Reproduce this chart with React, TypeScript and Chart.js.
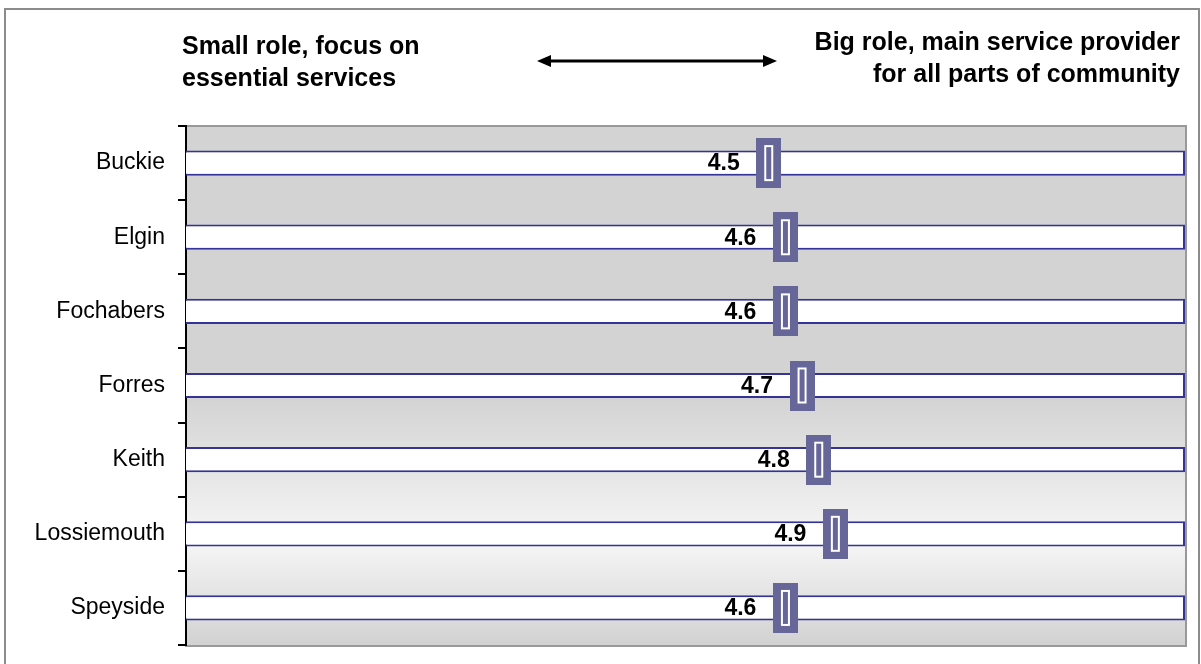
import React, { useEffect, useRef } from 'react';
import { Chart, registerables } from 'chart.js';

Chart.register(...registerables);

const categories = ['Buckie', 'Elgin', 'Fochabers', 'Forres', 'Keith', 'Lossiemouth', 'Speyside'];
const scores = [4.5, 4.6, 4.6, 4.7, 4.8, 4.9, 4.6];
const scaleMin = 1;
const scaleMax = 7;
const leftHeading = ['Small role, focus on', 'essential services'];
const rightHeading = ['Big role, main service provider', 'for all parts of community'];

const FONT = '"Liberation Sans", Arial, Helvetica, sans-serif';

const decorPlugin = {
  id: 'decor',
  beforeDraw(chart: any) {
    const { ctx, chartArea: a, width, height } = chart;
    ctx.save();
    ctx.fillStyle = '#ffffff';
    ctx.fillRect(0, 0, width, height);
    // outer frame
    ctx.strokeStyle = '#8c8c8c';
    ctx.lineWidth = 2;
    ctx.strokeRect(5, 9, 1194, 700);
    // plot background gradient
    const g = ctx.createLinearGradient(0, a.top, 0, a.bottom);
    g.addColorStop(0, '#d3d3d3');
    g.addColorStop(0.52, '#d3d3d3');
    g.addColorStop(0.8, '#f6f6f6');
    g.addColorStop(1, '#d2d2d2');
    ctx.fillStyle = g;
    ctx.fillRect(a.left, a.top, a.right - a.left, a.bottom - a.top);
    ctx.strokeStyle = '#999999';
    ctx.lineWidth = 2;
    ctx.strokeRect(a.left, a.top, a.right - a.left + 1, a.bottom - a.top + 1);
    // headings
    ctx.fillStyle = '#000';
    ctx.font = 'bold 25px ' + FONT;
    ctx.textBaseline = 'alphabetic';
    ctx.textAlign = 'left';
    ctx.fillText(leftHeading[0], a.left - 4, 54);
    ctx.fillText(leftHeading[1], a.left - 4, 86);
    ctx.textAlign = 'right';
    ctx.fillText(rightHeading[0], a.right - 5, 50);
    ctx.fillText(rightHeading[1], a.right - 5, 82);
    // double arrow
    const y = 61;
    const x1 = 537;
    const x2 = 777;
    ctx.strokeStyle = '#000';
    ctx.lineWidth = 3;
    ctx.beginPath();
    ctx.moveTo(x1 + 10, y);
    ctx.lineTo(x2 - 10, y);
    ctx.stroke();
    ctx.beginPath();
    ctx.moveTo(x1, y);
    ctx.lineTo(x1 + 14, y - 6);
    ctx.lineTo(x1 + 14, y + 6);
    ctx.closePath();
    ctx.fill();
    ctx.beginPath();
    ctx.moveTo(x2, y);
    ctx.lineTo(x2 - 14, y - 6);
    ctx.lineTo(x2 - 14, y + 6);
    ctx.closePath();
    ctx.fill();
    ctx.restore();
  },
  afterDatasetsDraw(chart: any) {
    const { ctx } = chart;
    const meta = chart.getDatasetMeta(1);
    ctx.save();
    ctx.fillStyle = '#000';
    ctx.font = 'bold 23px ' + FONT;
    ctx.textAlign = 'right';
    ctx.textBaseline = 'middle';
    meta.data.forEach((pt: any, i: number) => {
      ctx.fillText(scores[i].toFixed(1), pt.x - 29, pt.y + 1);
    });
    ctx.restore();
  },
};

export default function App() {
  const ref = useRef<HTMLCanvasElement>(null);
  useEffect(() => {
    const canvas = ref.current!;
    const marker = document.createElement('canvas');
    marker.width = 25;
    marker.height = 50;
    const m = marker.getContext('2d')!;
    m.fillStyle = '#666699';
    m.fillRect(0, 0, 25, 50);
    m.strokeStyle = '#ffffff';
    m.lineWidth = 2;
    m.strokeRect(9, 8, 7, 34);

    const chart = new Chart(canvas, {
      type: 'bar',
      data: {
        labels: categories,
        datasets: [
          {
            type: 'bar',
            data: categories.map(() => [scaleMin, scaleMax]) as any,
            backgroundColor: '#ffffff',
            borderColor: '#333399',
            borderWidth: 2,
            borderSkipped: 'start',
            barPercentage: 0.34,
            categoryPercentage: 1,
            order: 2,
          } as any,
          {
            type: 'line',
            indexAxis: 'y',
            data: scores,
            showLine: false,
            pointStyle: marker,
            pointRadius: 5,
            order: 1,
          } as any,
        ],
      },
      options: {
        indexAxis: 'y',
        responsive: false,
        animation: false,
        events: [],
        layout: { padding: { top: 126, right: 16, bottom: 19, left: 0 } },
        plugins: {
          legend: { display: false },
          tooltip: { enabled: false },
        },
        scales: {
          x: { display: false, min: scaleMin, max: scaleMax },
          y: {
            afterFit: (s: any) => {
              s.width = 186;
              s.paddingTop = 0;
              s.paddingBottom = 0;
            },
            grid: {
              drawOnChartArea: false,
              drawTicks: true,
              tickLength: 8,
              color: '#000',
              lineWidth: 2,
              offset: true,
            },
            border: { color: '#000', width: 2 },
            ticks: {
              color: '#000',
              padding: 13,
              font: { family: FONT, size: 23 },
            },
          },
        },
      },
      plugins: [decorPlugin],
    });
    return () => chart.destroy();
  }, []);
  return (
    <div style={{ position: 'absolute', left: 0, top: 0, width: 1201, height: 664 }}>
      <canvas ref={ref} width={1201} height={664} style={{ display: 'block', width: 1201, height: 664 }} />
    </div>
  );
}
